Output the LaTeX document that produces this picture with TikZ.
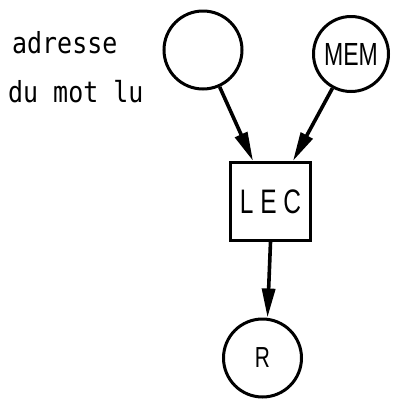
\documentclass[tikz,border=0pt]{standalone}
\usepackage{fontspec}
\usetikzlibrary{arrows.meta,calc}
\newfontfamily\monofnt[FakeStretch=0.86]{DejaVu Sans Mono}
\newfontfamily\lblfnt[FakeStretch=0.72]{Liberation Sans}
\begin{document}
\begin{tikzpicture}[x=1pt,y=-1pt,
  circ/.style={draw,circle,line width=3pt,minimum size=78pt,inner sep=0pt},
  boxn/.style={draw,rectangle,line width=3.2pt,minimum width=80pt,minimum height=78pt,inner sep=0pt},
  arr/.style={line width=3.6pt,-{Triangle[length=29pt,width=13pt]},shorten >=0pt},
  side/.style={anchor=base west,font=\monofnt\fontsize{29}{32}\selectfont,inner sep=0pt}]
  \useasboundingbox (0,0) rectangle (393,400);
  \node[circ] (c1) at (203,50) {};
  \node[circ,minimum size=75pt,font=\lblfnt\fontsize{32}{34}\selectfont] (mem) at (351,54) {MEM};
  \node[boxn,font=\lblfnt\fontsize{34}{36}\selectfont] (lec) at (270.5,201.5) {L E C};
  \node[circ,minimum size=78pt,font=\lblfnt\fontsize{29}{32}\selectfont] (r) at (262.5,358) {R};
  \node[side] (t1) at (12,53) {adresse};
  \node[side] (t2) at (8,102) {du mot lu};
  \coordinate (inL) at ($(lec.north)+(-17.5,0)$);
  \coordinate (inR) at ($(lec.north)+(22.5,0)$);
  \coordinate (outB) at ($(r.north)+(5,0)$);
  \draw[arr] (c1) -- (inL);
  \draw[arr] (mem) -- (inR);
  \draw[arr] (lec.south) -- (outB);
\end{tikzpicture}
\end{document}
